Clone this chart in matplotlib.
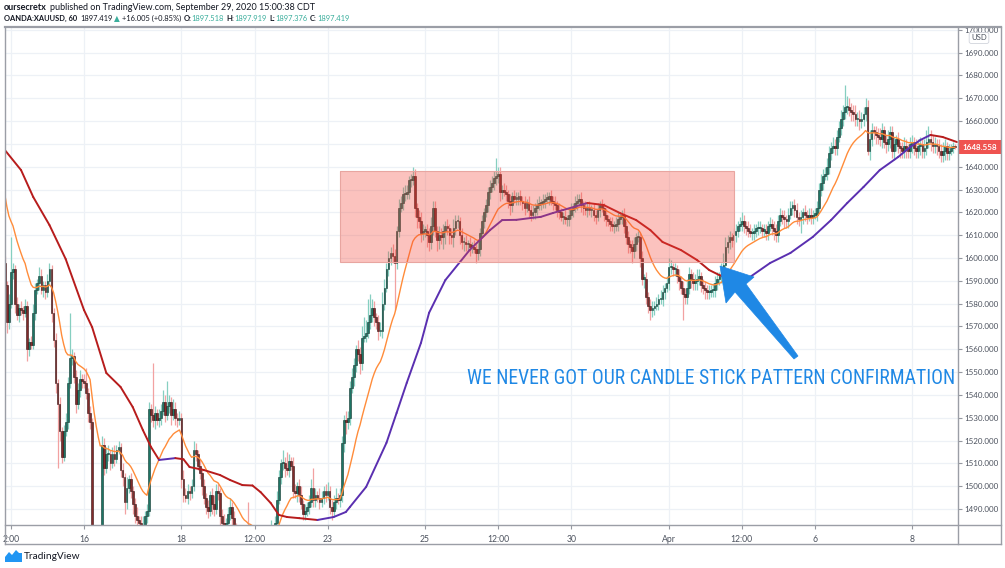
import numpy as np
import pandas as pd
import matplotlib
matplotlib.use("Agg")
import matplotlib.pyplot as plt
from matplotlib.collections import LineCollection
from matplotlib.patches import Rectangle, Polygon
from matplotlib.lines import Line2D
from matplotlib.transforms import IdentityTransform
from matplotlib.font_manager import findfont, FontProperties

# OANDA:XAUUSD, 60 min - closes (one per hourly bar)
closes = [
    1588, 1572, 1580, 1594, 1595, 1580, 1575, 1578, 1577, 1576,
    1579, 1560, 1563, 1562, 1576, 1586, 1589, 1592, 1586, 1588,
    1585, 1590, 1595, 1576, 1564, 1545, 1536, 1524, 1513, 1524,
    1528, 1545, 1556, 1557, 1548, 1536, 1542, 1547, 1546, 1545,
    1541, 1532, 1528,
    1468, 1466, 1471, 1476, 1480, 1518, 1508,
    1514, 1514, 1510, 1514, 1512, 1516, 1517, 1507, 1504, 1493,
    1499, 1503, 1498, 1492, 1487, 1485, 1484, 1480, 1483, 1487,
    1489, 1534, 1531, 1529, 1532, 1529, 1530, 1533, 1537, 1531,
    1535, 1537, 1531, 1534, 1530, 1529, 1530, 1503, 1496, 1495,
    1498, 1497, 1500, 1516, 1514, 1509, 1506, 1500, 1495, 1491,
    1489, 1496, 1492, 1490, 1498, 1497, 1487, 1484, 1480, 1484,
    1488, 1491, 1486, 1482, 1478, 1476, 1472, 1470, 1474, 1478,
    1475, 1480, 1477, 1472, 1468, 1471, 1475, 1480, 1478, 1476,
    1479, 1481, 1478, 1484, 1494, 1504, 1510, 1510, 1508, 1507,
    1511, 1509, 1498, 1497, 1500, 1496, 1492, 1488, 1489, 1491,
    1493, 1499, 1494, 1496, 1495, 1493, 1495, 1498, 1496, 1498,
    1491, 1489, 1493, 1495, 1494, 1496, 1519, 1529, 1528, 1530,
    1543, 1548, 1553, 1560, 1558, 1554, 1565, 1566, 1567, 1572,
    1575, 1578, 1574, 1572, 1568, 1568, 1580, 1587, 1595, 1600,
    1602, 1601, 1598, 1612, 1622, 1624, 1628, 1628, 1629, 1634,
    1634, 1636, 1622, 1618, 1616, 1611, 1612, 1612, 1610, 1607,
    1614, 1622, 1612, 1608, 1610, 1609, 1612, 1614, 1613, 1610,
    1609, 1613, 1616, 1616, 1610, 1607, 1607, 1606, 1606, 1605,
    1605, 1604, 1602, 1604, 1611, 1616, 1620, 1623, 1629, 1631,
    1633, 1635, 1636, 1637, 1629, 1630, 1629, 1628, 1625, 1623,
    1627, 1626, 1626, 1627, 1625, 1624, 1622, 1624, 1621, 1619,
    1620, 1622, 1623, 1624, 1624, 1625, 1626, 1626, 1627, 1625,
    1624, 1623, 1621, 1620, 1618, 1618, 1617, 1617, 1619, 1621,
    1622, 1624, 1625, 1626, 1623, 1622, 1621, 1622, 1621, 1621,
    1619, 1618, 1621, 1623, 1622, 1619, 1617, 1616, 1615, 1614,
    1614, 1615, 1617, 1618, 1619, 1614, 1609, 1606, 1605, 1603,
    1606, 1609, 1609, 1600, 1591, 1591, 1583, 1579, 1577, 1578,
    1579, 1580, 1582, 1582, 1585, 1587, 1589, 1596, 1596, 1595,
    1595, 1592, 1590, 1587, 1584, 1583, 1587, 1593, 1591, 1589,
    1590, 1591, 1592, 1588, 1587, 1586, 1585, 1585, 1586, 1586,
    1589, 1591, 1592, 1594, 1597, 1605, 1607, 1609, 1608, 1610,
    1612, 1614, 1615, 1616, 1614, 1613, 1612, 1611, 1611, 1612,
    1613, 1613, 1613, 1612, 1612, 1611, 1614, 1615, 1613, 1612,
    1610, 1616, 1619, 1618, 1617, 1616, 1619, 1622, 1623, 1621,
    1618, 1617, 1618, 1620, 1619, 1618, 1619, 1618, 1619, 1619,
    1622, 1630, 1633, 1636, 1637, 1640, 1646, 1648, 1649, 1648,
    1653, 1657, 1661, 1664, 1666, 1666, 1665, 1664, 1663, 1661,
    1661, 1660, 1661, 1663, 1666, 1647, 1652, 1656, 1655, 1654,
    1653, 1652, 1656, 1651, 1650, 1652, 1655, 1647, 1650, 1652,
    1649, 1648, 1647, 1649, 1648, 1647, 1650, 1651, 1648, 1647,
    1649, 1650, 1647, 1648, 1651, 1652, 1651, 1649, 1650, 1649,
    1647, 1645, 1647, 1649, 1646, 1647, 1648, 1649, 1648.558,
]
# wick length above / below the body of each bar
wick_up = [
    3, 2, 4, 15, 3, 2, 3, 2, 3, 2, 3, 2, 2, 3, 4, 3, 2, 4, 3, 2,
    2, 3, 3, 2, 2, 3, 2, 3, 2, 3, 4, 3, 20, 3, 2, 3, 3, 4, 2, 3,
    7, 2, 3, 2, 3, 2, 3, 3, 4, 3,
    3, 4, 2, 3, 4, 2, 3, 2, 3, 2, 5, 2, 3, 2, 3, 4, 2, 3, 4, 2,
    3, 3, 2, 23, 3, 2, 4, 3, 5, 3, 11, 3, 2, 4, 3, 2, 3, 2, 4, 3,
    3, 2, 3, 4, 3, 2, 3, 2, 3, 2, 3, 2, 3, 4, 3, 3, 2, 3, 4, 2,
    3, 4, 2, 3, 2, 3, 4, 2, 3, 5, 15, 3, 2, 3, 2, 4, 3, 2, 3, 2,
    3, 4, 2, 3, 4, 3, 2, 6, 3, 7, 3, 2, 4, 3, 2, 3, 4, 2, 3, 2,
    3, 4, 9, 3, 2, 4, 3, 2, 3, 4, 2, 3, 3, 4, 2, 3, 3, 2, 4, 3,
    3, 4, 3, 2, 4, 3, 5, 8, 6, 10, 9, 4, 3, 2, 3, 4, 5, 4, 3, 3,
    3, 4, 3, 2, 4, 3, 3, 4, 3, 2, 3, 4, 3, 2, 3, 4, 3, 2, 3, 3,
    4, 3, 3, 2, 4, 3, 3, 2, 3, 2, 3, 4, 3, 3, 2, 3, 2, 3, 2, 3,
    2, 3, 2, 3, 2, 3, 2, 3, 2, 3, 3, 3, 8, 3, 3, 2, 3, 3, 2, 3,
    2, 3, 3, 2, 3, 2, 3, 2, 3, 2, 3, 2, 3, 3, 2, 3, 2, 3, 2, 3,
    2, 3, 2, 3, 2, 2, 3, 2, 3, 3, 2, 3, 3, 2, 3, 2, 3, 2, 3, 2,
    3, 2, 3, 2, 3, 2, 3, 2, 2, 3, 2, 3, 3, 2, 2, 3, 2, 3, 2, 3,
    3, 2, 3, 2, 3, 2, 3, 2, 3, 3, 2, 3, 2, 4, 3, 2, 3, 4, 3, 2,
    3, 2, 3, 2, 3, 3, 4, 3, 2, 3, 3, 4, 3, 2, 3, 3, 2, 3, 2, 3,
    3, 3, 2, 4, 5, 4, 3, 3, 2, 3, 3, 2, 3, 4, 3, 2, 3, 3, 2, 3,
    2, 3, 3, 2, 3, 3, 2, 3, 2, 3, 3, 3, 3, 2, 3, 2, 3, 3, 2, 3,
    3, 2, 3, 2, 3, 2, 3, 3, 2, 3, 3, 3, 4, 3, 3, 4, 3, 3, 4, 3,
    3, 3, 4, 3, 10, 5, 4, 3, 3, 4, 3, 4, 3, 3, 4, 3, 4, 3, 2, 3,
    3, 4, 3, 2, 3, 4, 3, 3, 3, 2, 3, 2, 3, 4, 3, 2, 3, 3, 2, 4,
    3, 3, 2, 4, 5, 6, 4, 3, 3, 2, 3, 3, 4, 3, 2, 3, 2, 2, 1,
]
wick_dn = [
    8, 5, 3, 2, 3, 4, 2, 3, 2, 3, 2, 5, 3, 2, 2, 3, 2, 3, 2, 3,
    3, 2, 2, 4, 3, 4, 28, 4, 3, 2, 2, 3, 2, 3, 3, 4, 2, 3, 3, 2,
    3, 4, 3, 4, 3, 3, 2, 3, 2, 3,
    2, 3, 3, 2, 3, 2, 2, 3, 4, 5, 3, 2, 3, 4, 3, 3, 4, 3, 2, 3,
    3, 2, 3, 3, 4, 2, 3, 3, 2, 3, 2, 3, 4, 2, 3, 3, 2, 4, 3, 2,
    3, 3, 2, 2, 3, 2, 3, 4, 3, 3, 3, 2, 4, 3, 2, 3, 4, 3, 3, 2,
    2, 3, 4, 3, 3, 2, 3, 4, 3, 2, 3, 2, 3, 4, 3, 2, 3, 2, 3, 3,
    2, 3, 3, 2, 3, 2, 3, 3, 4, 2, 3, 2, 3, 2, 4, 3, 2, 3, 3, 2,
    3, 2, 3, 3, 2, 3, 2, 3, 3, 2, 3, 4, 2, 3, 2, 3, 3, 4, 5, 3,
    3, 2, 4, 3, 3, 5, 3, 2, 3, 2, 3, 3, 4, 3, 4, 2, 3, 3, 2, 3,
    3, 3, 21, 3, 3, 2, 3, 3, 2, 3, 3, 2, 4, 5, 3, 4, 3, 3, 5, 4,
    3, 4, 3, 5, 4, 3, 5, 6, 3, 4, 3, 4, 3, 3, 4, 3, 4, 3, 3, 4,
    3, 2, 4, 3, 3, 2, 3, 2, 3, 3, 2, 3, 3, 3, 4, 3, 2, 3, 3, 4,
    3, 2, 3, 3, 2, 3, 3, 2, 3, 3, 2, 3, 3, 2, 3, 2, 3, 2, 3, 2,
    3, 2, 3, 3, 2, 3, 2, 3, 3, 2, 3, 2, 3, 2, 3, 3, 2, 3, 2, 3,
    3, 3, 2, 3, 2, 3, 3, 2, 3, 2, 3, 2, 3, 2, 3, 3, 3, 4, 3, 5,
    3, 3, 2, 4, 3, 4, 3, 3, 4, 3, 3, 2, 3, 2, 3, 3, 2, 3, 3, 3,
    3, 3, 4, 3, 11, 3, 3, 3, 4, 3, 3, 4, 3, 3, 3, 4, 3, 3, 2, 3,
    3, 3, 3, 3, 2, 3, 3, 3, 3, 2, 3, 3, 2, 3, 3, 3, 3, 2, 3, 3,
    3, 3, 2, 3, 3, 3, 3, 2, 3, 4, 3, 3, 2, 3, 4, 3, 3, 2, 3, 3,
    3, 3, 6, 3, 3, 3, 2, 3, 3, 2, 3, 2, 3, 3, 2, 3, 3, 3, 2, 3,
    3, 2, 3, 3, 3, 3, 3, 4, 3, 3, 3, 4, 3, 3, 3, 2, 4, 3, 3, 4,
    3, 3, 4, 3, 4, 3, 4, 3, 4, 3, 3, 4, 3, 3, 4, 3, 3, 4, 3, 3,
    3, 4, 3, 3, 3, 3, 4, 3, 3, 4, 3, 3, 3, 4, 3, 3, 2, 2, 1,
]
first_open = 1598
ema_fast_seed = 1632   # fast average just before the first visible bar

# slow moving average (hours from Mar 16 00:00, price)
slow_hours = [-39, -31, -25, -17, -9, 0, 4, 11, 18, 24, 29, 33, 37, 45, 49,
              52, 59, 67, 72, 78, 83, 87, 92, 96, 100, 106, 115, 123, 129,
              131, 139, 149, 154, 159, 166, 170, 178, 190, 200, 206, 213,
              220, 225, 231, 236, 248, 256, 264, 272, 279, 285, 294, 302,
              308, 313, 321, 328, 338, 348, 359, 368, 376, 384, 392, 401,
              407, 412, 417, 423, 430]
slow_values = [1647.3, 1638.5, 1626.7, 1614.4, 1599.5, 1577.2, 1569.7, 1549.6,
               1543.5, 1534.7, 1524.6, 1517.2, 1511.5, 1512.3, 1511.8, 1508.4,
               1507.1, 1504.9, 1502.7, 1500.5, 1500.3, 1497.4, 1492.6, 1487.4,
               1486.5, 1486.0, 1485.2, 1486.5, 1488.7, 1490.9, 1499.7, 1519.0,
               1532.1, 1545.3, 1562.8, 1576.0, 1590.3, 1603.5, 1612.2, 1616.6,
               1616.7, 1617.5, 1618.0, 1619.7, 1621.0, 1624.1, 1623.2, 1619.7,
               1616.6, 1612.2, 1607.0, 1603.5, 1599.1, 1594.7, 1592.5, 1590.5,
               1591.6, 1597.8, 1602.2, 1609.2, 1616.6, 1624.1, 1631.1, 1638.5,
               1644.2, 1648.6, 1651.7, 1653.9, 1653.0, 1650.8]

first_hour = -39       # hours from Mar 16 00:00 of the first visible bar
tick_hours = [-36, 0, 48, 84, 120, 168, 204, 240, 288, 324, 360, 408]
tick_labels = ["2:00", "16", "18", "12:00", "23", "25", "12:00", "30",
               "Apr", "12:00", "6", "8"]

zone_hours = (126, 320)
zone_prices = (1598.2, 1638.1)
last_price = "1648.558"
note = "WE NEVER GOT OUR CANDLE STICK PATTERN CONFIRMATION"

W, H = 1005, 568
BLUE = "#1f88e5"
TXT = "#131722"
AX_TXT = "#4c525e"
TEAL = "#3aae9c"


def fx(x):
    return x / W


def fy(y):
    return 1 - y / H


def pick_font(names):
    for n in names:
        try:
            findfont(FontProperties(family=n), fallback_to_default=False)
            return n
        except ValueError:
            pass
    return "DejaVu Sans"


narrow = pick_font(["Liberation Sans Narrow", "Roboto Condensed", "Roboto"])

fig = plt.figure(figsize=(W / 100, H / 100), dpi=100)
fig.patch.set_facecolor("white")
L, R, T, B = 4.5, 957.5, 27, 525
ax = fig.add_axes([fx(L), fy(B), (R - L) / W, (B - T) / H])
ax.set_facecolor("white")

c = np.array(closes, dtype=float)
o = np.r_[first_open, c[:-1]]
hi = np.maximum(o, c) + np.array(wick_up)
lo = np.minimum(o, c) - np.array(wick_dn)
idx = np.arange(len(c))
up = c >= o

# wicks then bodies
ax.vlines(idx[up], lo[up], hi[up], color="#86cfc0", lw=0.9, zorder=2)
ax.vlines(idx[~up], lo[~up], hi[~up], color="#f2a1a1", lw=0.9, zorder=2)
body_h = np.maximum(np.abs(c - o), 0.5)
ax.bar(idx[up], body_h[up], bottom=np.minimum(o, c)[up], width=0.85,
       color="#1d7565", edgecolor="#12362f", lw=0.4, zorder=3)
ax.bar(idx[~up], body_h[~up], bottom=np.minimum(o, c)[~up], width=0.85,
       color="#822c2c", edgecolor="#361414", lw=0.4, zorder=3)

# fast average from the closes, slow average from the read values
fast = pd.Series([ema_fast_seed] + closes).ewm(span=20, adjust=False).mean().to_numpy()[1:]
ax.plot(idx, fast, color="#ff8c3a", lw=1.0, zorder=4)
sx = np.array(slow_hours) - first_hour
sv = np.array(slow_values)
pts = np.column_stack([sx, sv])
segs = np.stack([pts[:-1], pts[1:]], axis=1)
seg_cols = ["#5a2fb0" if d > 0 else "#b71c1c" for d in np.diff(sv)]
ax.add_collection(LineCollection(segs, colors=seg_cols, lw=1.4, zorder=4,
                                 capstyle="round", joinstyle="round"))

# zone box
z0 = zone_hours[0] - first_hour
z1 = zone_hours[1] - first_hour
ax.add_patch(Rectangle((z0, zone_prices[0]), z1 - z0, zone_prices[1] - zone_prices[0],
                       facecolor="#f44336", alpha=0.32, edgecolor="none", zorder=5))
ax.add_patch(Rectangle((z0, zone_prices[0]), z1 - z0, zone_prices[1] - zone_prices[0],
                       facecolor="none", edgecolor="#e8a5a0", lw=0.8, zorder=5))

ax.set_xlim(-0.16, 469.3)
ax.set_ylim(1483.0, 1701.2)
ax.set_xticks([h - first_hour for h in tick_hours])
ax.set_xticklabels(tick_labels)
yt = np.arange(1490, 1701, 10)
ax.set_yticks(yt)
ax.set_yticklabels(["" if v == 1650 else "%.3f" % v for v in yt])
ax.yaxis.tick_right()
ax.tick_params(axis="y", length=3, pad=2, labelsize=5.8, colors="#9598a1",
               labelcolor=AX_TXT, width=0.8)
ax.tick_params(axis="x", length=3, pad=4, labelsize=6.2, colors="#9598a1",
               labelcolor=AX_TXT, width=0.8)
for lab in ax.get_yticklabels():
    lab.set_family(["Lato", "DejaVu Sans"])
for lab in ax.get_xticklabels():
    lab.set_family(["Lato", "DejaVu Sans"])
ax.grid(True, color="#edf1f6", lw=0.9, zorder=0)
ax.set_axisbelow(True)
for s in ax.spines.values():
    s.set_visible(False)

# chart frame
frame = "#9b9ea6"
for (x0, y0, x1, y1, lw) in [(L, T, 1001, T, 1.6), (L, T, L, 544, 1.0),
                            (L, 544, 1001, 544, 1.0), (1001, T, 1001, 544, 1.0),
                            (R, T, R, 544, 1.0), (L, B, 1001, B, 1.0)]:
    fig.add_artist(Line2D([fx(x0), fx(x1)], [fy(y0), fy(y1)], color=frame, lw=lw))

# last price tag and currency box
fig.add_artist(Rectangle((fx(958), fy(154)), 43 / W, 14 / H, facecolor="#ef5350",
                         edgecolor="none", transform=fig.transFigure))
fig.text(fx(979.5), fy(147), last_price, color="white", fontsize=5.8,
         ha="center", va="center", fontweight="bold", family=["Lato", "DejaVu Sans"])
fig.text(fx(979), fy(38), "USD", color=AX_TXT, fontsize=5.6, ha="center", va="center",
         family=["Lato", "DejaVu Sans"],
         bbox=dict(boxstyle="round,pad=0.25", facecolor="white", edgecolor="#d1d4dc", lw=0.6))

# arrow
arrow_px = [(720, 266), (754, 277), (746, 284), (798, 356), (794, 359),
            (735, 292), (726, 303)]
fig.add_artist(Polygon([(x, H - y) for x, y in arrow_px], closed=True,
                       facecolor=BLUE, edgecolor=BLUE, lw=0.5,
                       transform=IdentityTransform(), zorder=6))

r = fig.canvas.get_renderer()
t = fig.text(fx(467), fy(378), note, color=BLUE, fontsize=12, family=narrow,
             ha="left", va="center", zorder=7)
w = t.get_window_extent(r).width
t.set_fontsize(12 * 486 / w)

# header lines, laid out piece by piece and scaled to the picture's line length
hdr_font = ["Lato", "DejaVu Sans"]


def write_line(pieces, x, y, width):
    def lay(size, keep):
        pos = x
        made = []
        for s, weight, color, gap in pieces:
            tt = fig.text(fx(pos), fy(y), s, fontsize=size, fontweight=weight, color=color,
                          ha="left", va="center", family=hdr_font)
            pos += tt.get_window_extent(r).width + gap * size * 100 / 72
            made.append(tt)
        if not keep:
            for tt in made:
                tt.remove()
        return pos - x

    total = lay(10, False)
    lay(10 * width / total, True)


line1 = [("oursecretx", "bold", TXT, 0.3),
         ("published on TradingView.com, September 29, 2020 15:00:38 CDT", "normal", TXT, 0)]
line2 = [("OANDA:XAUUSD, 60", "bold", TXT, 0.4), ("1897.419", "normal", TXT, 0.25),
         ("\u25B2", "normal", TEAL, 0.25), ("+16.005 (+0.85%)", "normal", TXT, 0.3),
         ("O:", "bold", TXT, 0.05), ("1897.518", "normal", TEAL, 0.3),
         ("H:", "bold", TXT, 0.05), ("1897.919", "normal", TEAL, 0.3),
         ("L:", "bold", TXT, 0.05), ("1897.376", "normal", TEAL, 0.3),
         ("C:", "bold", TXT, 0.05), ("1897.419", "normal", TEAL, 0)]
write_line(line1, 4, 7.5, 311)
write_line(line2, 4, 18.5, 348)

# footer logo
logo = [(5, 562), (5, 557), (9, 552), (12, 555), (16, 550), (19, 553), (22, 553),
        (22, 562)]
fig.add_artist(Polygon([(x, H - y) for x, y in logo], closed=True, facecolor="#2196f3",
                       edgecolor="none", transform=IdentityTransform()))
fig.text(fx(24), fy(556.5), "TradingView", color=TXT, fontsize=7.3, ha="left",
         va="center", family=hdr_font)

fig.savefig("out.png", dpi=100, facecolor="white")
